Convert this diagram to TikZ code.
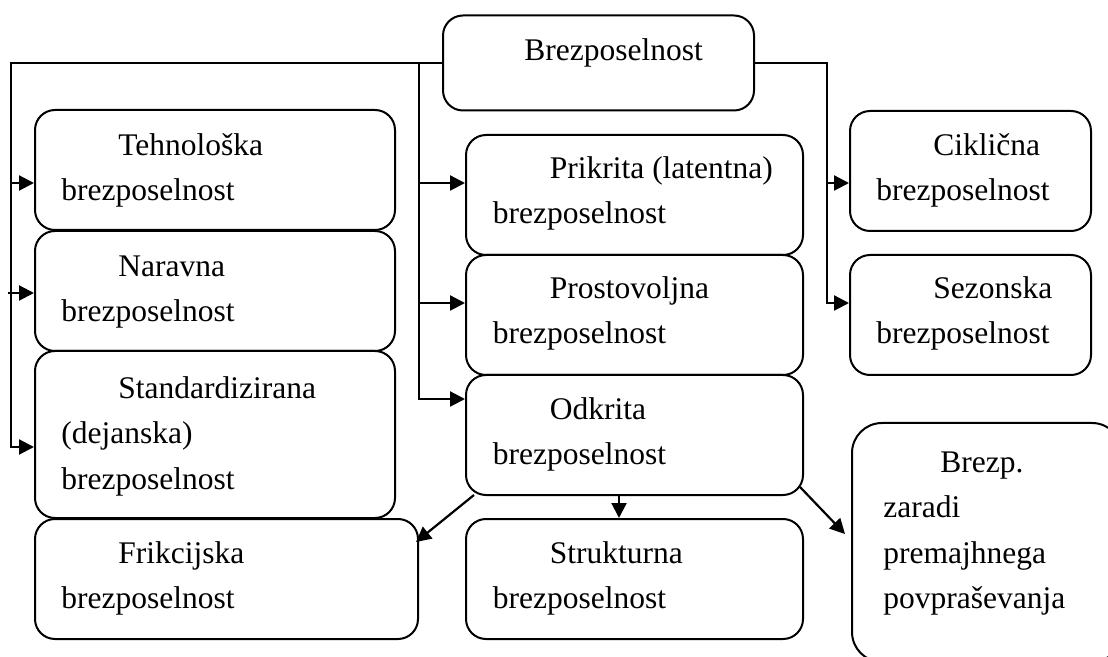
\documentclass[tikz,border=0pt]{standalone}
\usepackage{fontspec}
\setmainfont{Liberation Serif}
\usetikzlibrary{arrows.meta,calc}
\begin{document}
\begin{tikzpicture}[x=0.5pt,y=-0.5pt,
  box/.style={draw, line width=1pt, rounded corners=10pt, inner sep=0pt},
  bigbox/.style={draw, line width=1pt, rounded corners=15pt, inner sep=0pt},
  txt/.style={inner sep=0pt, anchor=north west, align=left, font=\fontsize{15.75pt}{22.75pt}\selectfont},
  conn/.style={line width=1.1pt},
  arr/.style={line width=1.1pt, -{Triangle[length=7.5pt,width=7.5pt]}}]
\path[use as bounding box, clip] (0,0) rectangle (1108,657);

% boxes
\node[box, minimum width=155.5pt, minimum height=47.5pt] (top) at (598.5,63) {};
\node[box, minimum width=180pt, minimum height=60pt] (tech) at (215,170) {};
\node[box, minimum width=180pt, minimum height=60pt] (nar) at (215,291) {};
\node[box, minimum width=180pt, minimum height=83.5pt] (std) at (215,434.5) {};
\node[box, minimum width=191.5pt, minimum height=60pt] (frik) at (226.5,579) {};
\node[box, minimum width=168.5pt, minimum height=60pt] (prik) at (634.5,195) {};
\node[box, minimum width=168.5pt, minimum height=60pt] (prost) at (634.5,315) {};
\node[box, minimum width=168.5pt, minimum height=60pt] (odk) at (634.5,435) {};
\node[box, minimum width=168.5pt, minimum height=60pt] (strukt) at (634.5,579) {};
\node[box, minimum width=120.5pt, minimum height=60pt] (cikl) at (970.5,171) {};
\node[box, minimum width=120.5pt, minimum height=60pt] (sez) at (970.5,315) {};
\node[bigbox, minimum width=135pt, minimum height=119.5pt] (brezp) at (987,542.5) {};

% texts
\node[txt] (top-t) at (524,28.15) {\strut Brezposelnost};
\node[txt] (tech-t) at (61,123.15) {\strut\hspace*{28.5pt}Tehnološka\\\strut brezposelnost};
\node[txt] (nar-t) at (61,244.15) {\strut\hspace*{28.5pt}Naravna\\\strut brezposelnost};
\node[txt] (std-t) at (61,366.15) {\strut\hspace*{28.5pt}Standardizirana\\\strut (dejanska)\\\strut brezposelnost};
\node[txt] (frik-t) at (61,531.15) {\strut\hspace*{28.5pt}Frikcijska\\\strut brezposelnost};
\node[txt] (prik-t) at (492.5,146.15) {\strut\hspace*{28.5pt}Prikrita (latentna)\\\strut brezposelnost};
\node[txt] (prost-t) at (492.5,266.15) {\strut\hspace*{28.5pt}Prostovoljna\\\strut brezposelnost};
\node[txt] (odk-t) at (492.5,387.15) {\strut\hspace*{28.5pt}Odkrita\\\strut brezposelnost};
\node[txt] (strukt-t) at (492.5,531.15) {\strut\hspace*{28.5pt}Strukturna\\\strut brezposelnost};
\node[txt] (cikl-t) at (876,123.15) {\strut\hspace*{28.5pt}Ciklična\\\strut brezposelnost};
\node[txt] (sez-t) at (876,266.15) {\strut\hspace*{28.5pt}Sezonska\\\strut brezposelnost};
\node[txt] (brezp-t) at (883,440.15) {\strut\hspace*{28.5pt}Brezp.\\\strut zaradi\\\strut premajhnega\\\strut povpraševanja};

% junction coordinates
\coordinate (cLend) at (11,447);
\coordinate (jT) at (11,183);
\coordinate (jN) at (8,293);
\coordinate (cMtop) at (419,63);
\coordinate (cMend) at (419,399);
\coordinate (jP) at (419,183);
\coordinate (jPr) at (419,303);
\coordinate (cRend) at (827,303);
\coordinate (jC) at (827,183);
\coordinate (o1) at (474,495);
\coordinate (f1) at (416,542);
\coordinate (o2) at (619,495);
\coordinate (o3) at (800,487);
\coordinate (b3) at (845,534);

% left trunk
\draw[arr] (top.west) -| (cLend) -- (cLend -| std.west);
\draw[arr] (jT) -- (jT -| tech.west);
\draw[arr] (jN) -- (jN -| nar.west);
% middle trunk
\draw[arr] (cMtop) -- (cMend) -- (cMend -| odk.west);
\draw[arr] (jP) -- (jP -| prik.west);
\draw[arr] (jPr) -- (jPr -| prost.west);
% right trunk
\draw[arr] (top.east) -| (cRend) -- (cRend -| sez.west);
\draw[arr] (jC) -- (jC -| cikl.west);
% from Odkrita
\draw[arr] (o1) -- (f1);
\draw[arr] (o2) -- (o2 |- strukt.north);
\draw[arr] (o3) -- (b3);
\end{tikzpicture}
\end{document}
